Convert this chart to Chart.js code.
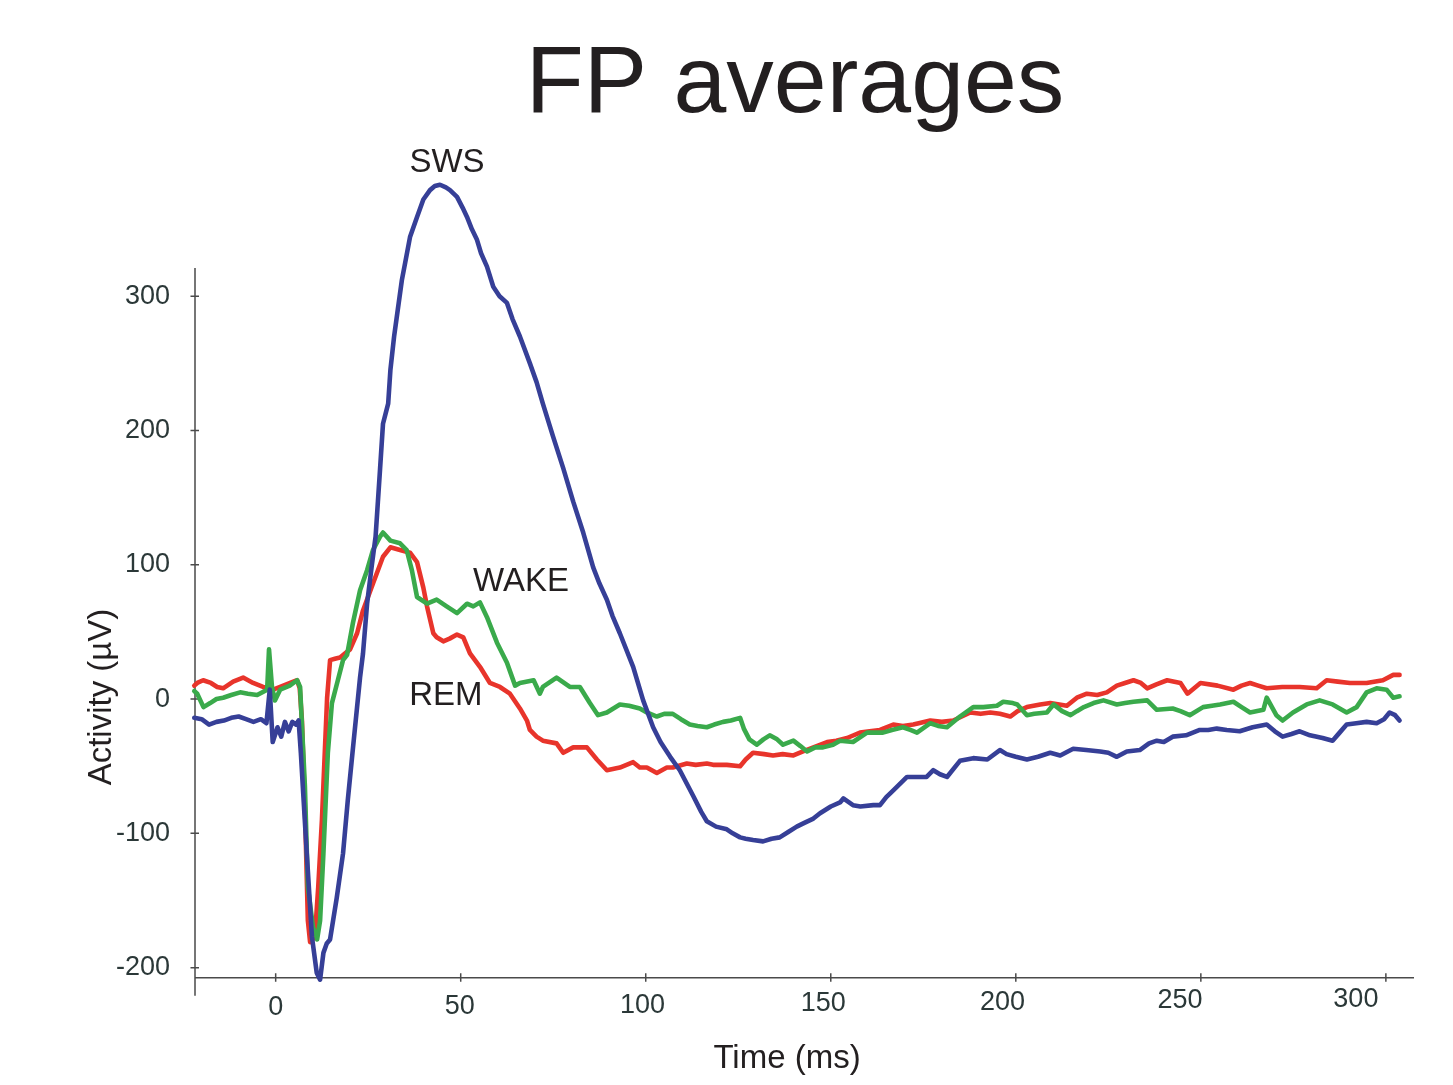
<!DOCTYPE html>
<html>
<head>
<meta charset="utf-8">
<title>FP averages</title>
<script src="https://cdn.jsdelivr.net/npm/chart.js@4.4.1/dist/chart.umd.min.js"></script>
<style>
  html, body { margin: 0; padding: 0; background: #fff; }
  canvas { display: block; }
</style>
</head>
<body>
<canvas id="fpChart" width="1453" height="1085"></canvas>
<script>
// fonts / colours
const FONT = '"Liberation Sans", Arial, Helvetica, sans-serif';
const INK = "#231f20";
const TICK_INK = "#2b3838";

// axis ticks
const xTickValues = [0, 50, 100, 150, 200, 250, 300];
const yTickValues = [-200, -100, 0, 100, 200, 300];

// trace names, colours and where their labels sit (ms, µV)
const traceNames = ["SWS", "WAKE", "REM"];
const traceColors = ["#363f97", "#3aaa4b", "#e8342b"];
const labelTimes = [46.3, 66.3, 46];
const labelValues = [400.6, 88.6, 3.7];

// SWS (blue)
const swsTime = [
  -22, -20, -18, -16, -14, -12, -10, -8, -6, -4, -2.5, -1.6, -0.8, 0.5, 1.5, 2.5, 3.5, 4.5, 5.5, 6.2,
  6.8, 8.4, 9.8, 11.1, 12, 12.9, 13.8, 14.7, 16.5, 18.2, 19.5, 20.9, 22.8, 23.6, 24.7, 26, 27, 28.2, 29, 30.4,
  31, 32, 33, 34.1, 35, 36.3, 38.2, 39.9, 41.7, 43, 44.4, 46, 47.1, 49, 50.5, 51.7, 53, 54.4, 55.5, 57.1,
  58.8, 60.5, 62.5, 64, 66, 68.7, 70.5, 72.2, 74.9, 77.7, 80.4, 83.1, 85.8, 87.5, 89.5, 91, 93, 96.6, 99.3, 102,
  104, 106.6, 109.2, 112.8, 115, 116.5, 119, 121.9, 123.5, 125.5, 127, 129, 131.7, 134, 136.2, 138.5, 140.8, 143, 145.3, 147.1,
  150, 152.5, 153.4, 156, 158, 161.5, 163.3, 165, 166.9, 170.6, 173, 175.9, 177.7, 179.5, 181.4, 184.9, 188.5, 192.3, 195.7, 197.5,
  200, 203, 206, 209.3, 212, 215.5, 219, 222.8, 225, 227.3, 230, 233.5, 236, 238.1, 240, 242.4, 246, 249.7, 252, 254.3,
  257, 260.5, 264, 267.8, 270, 272.1, 274.5, 276.7, 279.5, 282.9, 285.6, 287.5, 289.4, 292, 294.8, 297.5, 299.5, 301, 302.5, 303.7
];
const swsValues = [
  -14, -15, -19, -17, -16, -14, -13, -15, -17, -15, -18, 7, -32, -21, -28, -17, -24, -17, -19, -16,
  -40, -115, -177, -204, -209, -189, -182, -179, -148, -115, -75, -36, 16, 34, 71, 100, 121, 171, 205, 220,
  245, 270, 290, 312, 325, 344, 359, 372, 379, 382, 383, 381, 379, 374, 366, 359, 350, 342, 332, 322,
  307, 300, 295, 283, 270, 250, 236, 220, 196, 172, 147, 124, 98, 86, 74, 62, 49, 24, -1, -21,
  -32, -43, -53, -72, -84, -91, -95, -97, -100, -103, -104, -105, -106, -104, -103, -99, -95, -92, -89, -85,
  -80, -77, -74, -79, -80, -79, -79, -73, -68, -58, -58, -58, -53, -56, -58, -46, -44, -45, -38, -41,
  -43, -45, -43, -40, -42, -37, -38, -39, -40, -43, -39, -38, -33, -31, -32, -28, -27, -23, -23, -22,
  -23, -24, -21, -19, -24, -28, -26, -24, -27, -29, -31, -25, -19, -18, -17, -18, -15, -10, -12, -16
];

// REM (red)
const remTime = [
  -22, -21.2, -19.6, -17.5, -15.8, -14.2, -11.5, -8.8, -6.1, -3.4, -0.7, 1.2, 3.9, 5.8, 6.5, 7.1, 8, 8.7, 9.3, 10.6,
  11.5, 12.5, 13.9, 14.7, 16, 17.4, 20.1, 22, 23.6, 26.3, 29, 31, 33.6, 36.3, 38.2, 39.9, 40.9, 42.6, 43.5, 45.3,
  47, 49, 50.7, 52.5, 55.2, 57.9, 60.6, 63.3, 66, 67.9, 68.7, 70.5, 72.2, 75.9, 77.7, 80.4, 84.1, 86.8, 89.5, 93,
  96.6, 98.4, 100.3, 103, 105.7, 107.3, 111.1, 113.5, 116.5, 118.2, 121.9, 125.5, 127, 129, 132, 134.4, 137, 139.9, 142.5, 145.3,
  149, 151.5, 154.4, 157.9, 160.5, 163.3, 166.9, 169.5, 172.3, 176.9, 180, 183.1, 187.7, 190.5, 193.1, 195.7, 198.5, 200.5, 203, 206.6,
  209.3, 213.8, 216.5, 219.2, 222, 224.6, 227.3, 229.5, 231.8, 233.8, 235.5, 238, 240.9, 244.5, 246.4, 249.9, 254.5, 258.8, 261, 263.3,
  265.5, 267.8, 272, 276.7, 281.3, 284, 287, 290.3, 294.8, 299.2, 302, 303.7
];
const remValues = [
  10, 12, 14, 12, 9, 8, 13, 16, 12, 9, 7, 9, 12, 14, 8, -16, -90, -165, -181, -177,
  -140, -90, 1, 29, 30, 31, 37, 49, 66, 86, 106, 113, 111, 109, 102, 83, 69, 49, 46, 43,
  45, 48, 46, 34, 24, 12, 9, 4, -7, -16, -23, -28, -31, -33, -40, -36, -36, -45, -53, -51,
  -47, -51, -51, -55, -51, -51, -48, -49, -48, -49, -49, -50, -45, -40, -41, -42, -41, -42, -39, -36,
  -32, -31, -29, -25, -24, -23, -19, -20, -19, -16, -17, -16, -10, -11, -10, -11, -13, -9, -6, -4,
  -3, -5, 1, 4, 3, 5, 10, 12, 14, 12, 8, 11, 14, 12, 4, 12, 10, 7, 10, 12,
  10, 8, 9, 9, 8, 14, 13, 12, 12, 14, 18, 18
];

// WAKE (green)
const wakeTime = [
  -22, -21.2, -19.5, -17.7, -16, -14.2, -12, -9.6, -7.5, -5, -2.3, -1.8, -1, -0.2, 1.2, 3.8, 5.8, 6.6, 7.9, 8.7,
  10.1, 11.2, 12, 12.9, 14.1, 15.2, 16.8, 18.2, 19.3, 20.9, 22.8, 24.7, 26.3, 28.2, 29, 31, 33.6, 35.4, 36.8, 38.2,
  40.9, 43.5, 46.2, 49, 51.7, 53.4, 55.2, 57.1, 59.8, 62.5, 64.7, 66, 69.7, 71.4, 72.2, 75.9, 79.5, 82.2, 84.9, 87.1,
  89.5, 93, 95.5, 98.4, 100.3, 103, 105, 107.3, 109.5, 111.9, 114, 116.5, 118.5, 120.9, 123, 125.5, 126.5, 128, 130, 131.8,
  133.5, 135.5, 137.1, 139.9, 141.8, 143.6, 145.8, 147.9, 150.6, 152.5, 156, 159.8, 164.1, 166.5, 169.5, 171.5, 173.3, 176.9, 179, 181.4,
  184.9, 188.5, 191.2, 194.9, 196.6, 199.2, 200.4, 203, 205, 208.4, 210.2, 212.5, 214.8, 216.5, 218.4, 221, 223.7, 227.3, 229.5, 231.8,
  235.5, 238.1, 242.4, 244.5, 247, 250.6, 253, 255.2, 258.8, 261, 263.3, 266.9, 267.8, 270.4, 272.1, 274.9, 278.6, 282.1, 285.6, 289.4,
  292.1, 294.8, 297.5, 300.2, 302, 303.7
];
const wakeValues = [
  6, 4, -6, -3, 0, 1, 3, 5, 4, 3, 7, 37, 9, -1, 7, 10, 14, 9, -65, -140,
  -170, -179, -165, -115, -40, -3, 14, 29, 33, 57, 81, 96, 111, 121, 124, 118, 116, 111, 96, 76,
  71, 74, 69, 64, 71, 69, 72, 61, 42, 27, 10, 12, 14, 4, 9, 16, 9, 9, -3, -12,
  -10, -4, -5, -7, -10, -13, -11, -11, -15, -19, -20, -21, -19, -17, -16, -14, -22, -30, -34, -30,
  -27, -30, -34, -31, -35, -39, -36, -36, -34, -31, -32, -25, -25, -23, -21, -23, -25, -18, -20, -21,
  -13, -6, -6, -5, -2, -3, -4, -12, -11, -10, -4, -9, -12, -9, -6, -3, -1, -4, -3, -2,
  -1, -8, -7, -9, -12, -6, -5, -4, -2, -6, -10, -8, 1, -12, -16, -10, -4, -1, -4, -10,
  -6, 5, 8, 7, 1, 2
];

function toPoints(times, values) {
  return times.map((t, i) => ({ x: t, y: values[i] }));
}

// axes, tick marks and all the text are drawn here
const framePlugin = {
  id: "frame",
  beforeDatasetsDraw(chart) {
    const { ctx, chartArea: a, scales } = chart;
    ctx.save();
    ctx.strokeStyle = "#4a4a4a";
    ctx.lineWidth = 1.5;
    ctx.beginPath();
    ctx.moveTo(a.left, a.top);
    ctx.lineTo(a.left, a.bottom + 18);
    ctx.moveTo(a.left, a.bottom);
    ctx.lineTo(a.right, a.bottom);
    xTickValues.forEach(v => {
      const px = scales.x.getPixelForValue(v);
      ctx.moveTo(px, a.bottom - 4.5);
      ctx.lineTo(px, a.bottom + 4);
    });
    yTickValues.forEach(v => {
      const py = scales.y.getPixelForValue(v);
      ctx.moveTo(a.left - 4.5, py);
      ctx.lineTo(a.left + 4, py);
    });
    ctx.stroke();
    ctx.restore();
  },
  afterDraw(chart) {
    const { ctx, scales } = chart;
    ctx.save();

    // x tick labels (they drift a little left in the original)
    ctx.fillStyle = TICK_INK;
    ctx.font = `27px ${FONT}`;
    ctx.textAlign = "center";
    ctx.textBaseline = "middle";
    xTickValues.forEach(v => {
      const px = scales.x.getPixelForValue(v) - v * v / 3000;
      ctx.fillText(String(v), px, 1008 - v / 35);
    });

    // title
    ctx.fillStyle = INK;
    ctx.textBaseline = "alphabetic";
    ctx.font = `95px ${FONT}`;
    ctx.fillText("FP averages", 795, 112);

    // axis titles
    ctx.font = `33px ${FONT}`;
    ctx.fillText("Time (ms)", 787, 1068);
    ctx.save();
    ctx.translate(111, 697);
    ctx.rotate(-Math.PI / 2);
    ctx.fillText("Activity (µV)", 0, 0);
    ctx.restore();

    // trace labels
    ctx.textBaseline = "middle";
    traceNames.forEach((name, i) => {
      ctx.fillText(name, scales.x.getPixelForValue(labelTimes[i]), scales.y.getPixelForValue(labelValues[i]) + 2);
    });
    ctx.restore();
  }
};

const traces = [toPoints(swsTime, swsValues), toPoints(wakeTime, wakeValues), toPoints(remTime, remValues)];

new Chart(document.getElementById("fpChart"), {
  type: "line",
  data: {
    datasets: traceNames.map((name, i) => ({
      label: name,
      data: traces[i],
      borderColor: traceColors[i],
      borderWidth: 4.6,
      pointRadius: 0,
      tension: 0,
      clip: false,
      borderJoinStyle: "round",
      borderCapStyle: "round"
    }))
  },
  options: {
    responsive: false,
    animation: false,
    layout: { padding: { top: 268, right: 39, left: 0, bottom: 0 } },
    plugins: {
      legend: { display: false },
      title: { display: false },
      tooltip: { enabled: false }
    },
    scales: {
      x: {
        type: "linear",
        min: -21.8,
        max: 307.6,
        grid: { display: false, drawTicks: false },
        border: { display: false },
        ticks: { display: false },
        afterBuildTicks: s => { s.ticks = xTickValues.map(v => ({ value: v })); },
        afterFit: s => { s.height = 107.3; }
      },
      y: {
        type: "linear",
        min: -207.5,
        max: 321,
        grid: { display: false, drawTicks: false },
        border: { display: false },
        ticks: {
          color: TICK_INK,
          font: { family: FONT, size: 27 },
          padding: 25,
          callback: v => String(v)
        },
        afterBuildTicks: s => { s.ticks = yTickValues.map(v => ({ value: v })); },
        afterFit: s => { s.width = 195; }
      }
    }
  },
  plugins: [framePlugin]
});
</script>
</body>
</html>
